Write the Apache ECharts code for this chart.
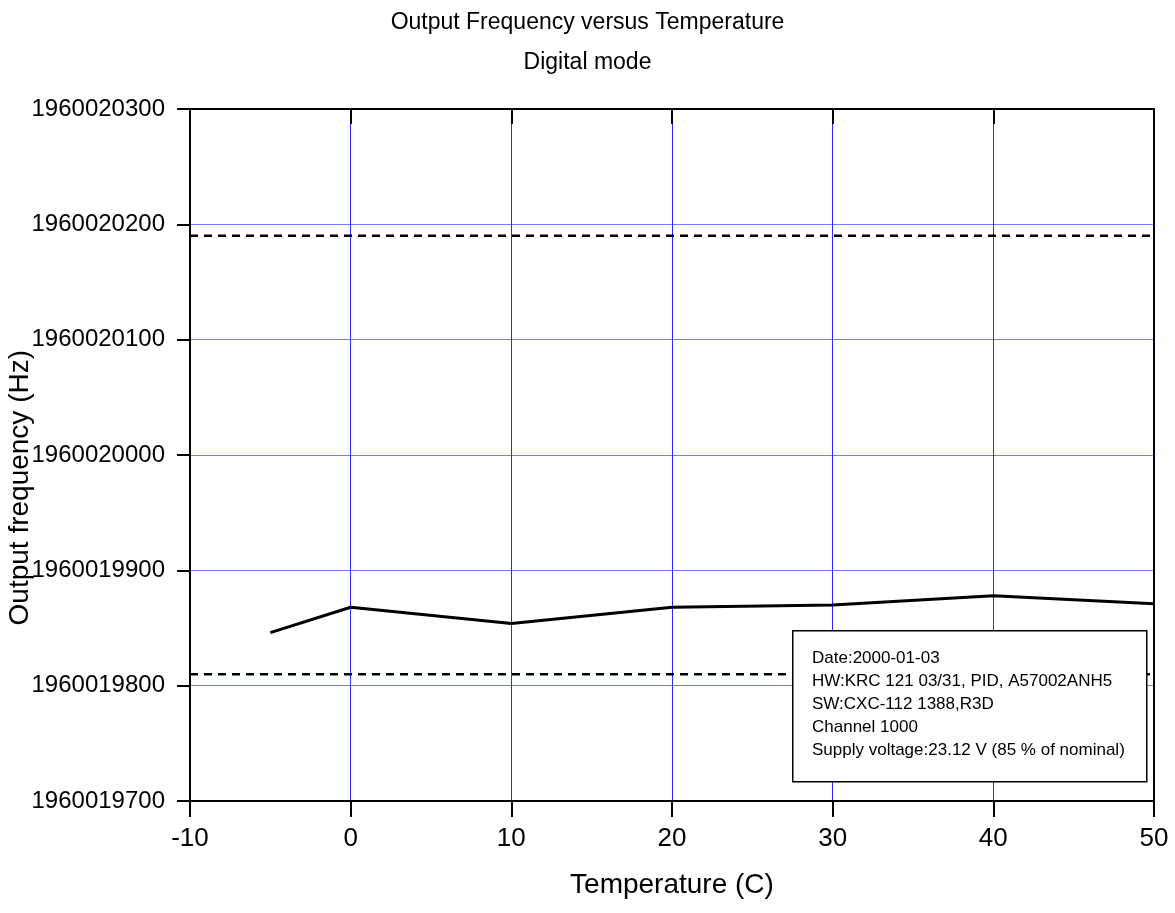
<!DOCTYPE html>
<html>
<head>
<meta charset="utf-8">
<script src="https://cdn.jsdelivr.net/npm/echarts@6/dist/echarts.min.js"></script>
<style>
  html, body { margin: 0; padding: 0; background: #fff; }
  #chart { width: 1175px; height: 913px; }
</style>
</head>
<body>
<div id="chart"></div>
<script>
// measured data
const temperatures = [-5, 0, 10, 20, 30, 40, 50];
const frequencies = [1960019846, 1960019868, 1960019854, 1960019868, 1960019870, 1960019878, 1960019871];
// limit lines
const upperLimit = 1960020190;
const lowerLimit = 1960019810;
const xRange = [-10, 50];
const yRange = [1960019700, 1960020300];
const infoLines = [
  "Date:2000-01-03",
  "HW:KRC 121 03/31, PID, A57002ANH5",
  "SW:CXC-112 1388,R3D",
  "Channel 1000",
  "Supply voltage:23.12 V (85 % of nominal)"
];

const FONT = "'Liberation Sans', Arial, sans-serif";
const dom = document.getElementById("chart");
const myChart = echarts.init(dom);

const option = {
  animation: false,
  textStyle: { fontFamily: FONT },
  title: {
    text: "Output Frequency versus Temperature\nDigital mode",
    left: "center",
    top: 3,
    padding: 0,
    textStyle: { fontSize: 23, fontWeight: "normal", color: "#000", lineHeight: 40, fontFamily: FONT },
  },
  grid: { left: 190, right: 21, top: 109, bottom: 112 },
  xAxis: [
    {
      type: "value",
      position: "bottom",
      min: xRange[0],
      max: xRange[1],
      interval: 10,
      name: "Temperature (C)",
      nameLocation: "middle",
      nameGap: 70,
      nameTextStyle: { fontSize: 28, color: "#000", fontFamily: FONT },
      axisLine: { onZero: false, lineStyle: { color: "#000", width: 2 } },
      axisTick: { show: true, inside: false, length: 16, lineStyle: { color: "#000", width: 2 } },
      axisLabel: { fontSize: 26, color: "#000", margin: 25, fontFamily: FONT },
      splitLine: { show: true, lineStyle: { color: "#2a2aff", width: 1 } },
    },
    {
      type: "value",
      position: "top",
      min: xRange[0],
      max: xRange[1],
      interval: 10,
      axisLine: { show: true, onZero: false, lineStyle: { color: "#000", width: 2 } },
      axisTick: { show: true, inside: true, length: 15, lineStyle: { color: "#000", width: 2 } },
      axisLabel: { show: false },
      splitLine: { show: false },
    },
  ],
  yAxis: [
    {
      type: "value",
      position: "left",
      min: yRange[0],
      max: yRange[1],
      interval: 100,
      axisLine: { show: true, onZero: false, lineStyle: { color: "#000", width: 2 } },
      axisTick: { show: true, inside: false, length: 13, lineStyle: { color: "#000", width: 2 } },
      axisLabel: { fontSize: 24, color: "#000", margin: 25, fontFamily: FONT, formatter: (v) => String(v) },
      splitLine: { show: true, lineStyle: { color: "#7878ff", width: 1 } },
    },
    {
      type: "value",
      position: "right",
      min: yRange[0],
      max: yRange[1],
      interval: 100,
      axisLine: { show: true, onZero: false, lineStyle: { color: "#000", width: 2 } },
      axisTick: { show: false },
      axisLabel: { show: false },
      splitLine: { show: false },
    },
  ],
  graphic: [
    {
      type: "text",
      left: 6,
      top: 350,
      rotation: Math.PI / 2,
      z: 100,
      style: {
        text: "Output frequency (Hz)",
        fontSize: 28,
        fill: "#000",
        fontFamily: FONT,
      },
    },
    {
      type: "rect",
      left: 792,
      top: 630,
      z: 100,
      shape: { x: 0, y: 0, width: 354, height: 151 },
      style: { fill: "#fff", stroke: "#000", lineWidth: 1.5 },
    },
    {
      type: "text",
      left: 812,
      top: 647,
      z: 101,
      style: {
        text: infoLines.join("\n"),
        fontSize: 17,
        lineHeight: 23,
        fill: "#000",
        fontFamily: FONT,
      },
    },
  ],
  series: [
    {
      name: "Frequency",
      type: "line",
      data: temperatures.map((t, i) => [t, frequencies[i]]),
      showSymbol: false,
      lineStyle: { color: "#000", width: 3 },
      z: 5,
    },
    {
      name: "Upper limit",
      type: "line",
      data: [[xRange[0], upperLimit], [xRange[1], upperLimit]],
      showSymbol: false,
      lineStyle: { color: "#000", width: 2.5, type: [8, 6] },
      z: 4,
    },
    {
      name: "Lower limit",
      type: "line",
      data: [[xRange[0], lowerLimit], [xRange[1], lowerLimit]],
      showSymbol: false,
      lineStyle: { color: "#000", width: 2.5, type: [8, 6] },
      z: 4,
    },
  ],
};
myChart.setOption(option);
</script>
</body>
</html>
